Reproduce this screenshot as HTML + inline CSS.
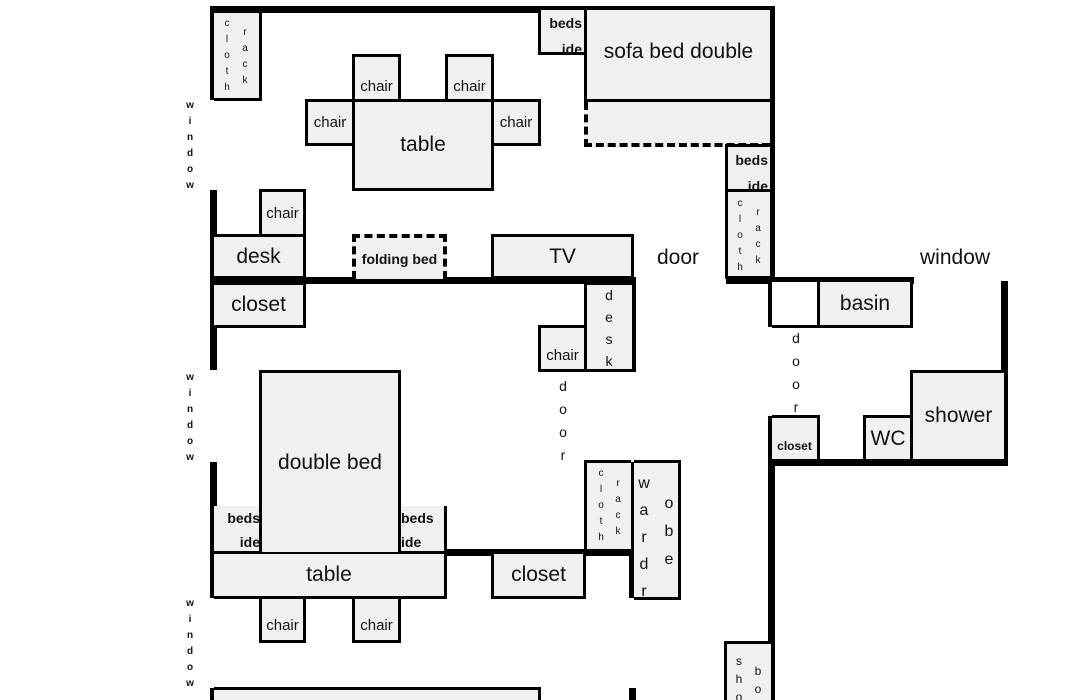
<!DOCTYPE html>
<html><head><meta charset="utf-8"><style>
html,body{margin:0;width:1080px;height:700px;overflow:hidden;}
body{background:#fff;position:relative;font-family:"Liberation Sans",sans-serif;}
.b{position:absolute;box-sizing:border-box;border:3px solid #000;background:#f0f0f0;display:flex;align-items:center;justify-content:center;color:#111;font-size:20px;}
.w{position:absolute;background:#000;}
.t{position:absolute;color:#111;}
.v{position:absolute;color:#111;font-size:10px;line-height:16px;text-align:center;width:10px;}
.sm{font-size:15px;}
.bs{font-weight:bold;font-size:14px;line-height:26px;text-align:right;padding-right:2px;display:block;}
</style></head><body>
<!-- walls -->
<div class="w" style="left:210px;top:6px;width:565px;height:7px"></div>
<div class="w" style="left:768px;top:6px;width:7px;height:278px"></div>
<div class="w" style="left:210px;top:6px;width:7px;height:94px"></div>
<div class="w" style="left:210px;top:190px;width:7px;height:180px"></div>
<div class="w" style="left:210px;top:277px;width:426px;height:7px"></div>
<div class="w" style="left:629px;top:277px;width:7px;height:95px"></div>
<div class="w" style="left:726px;top:277px;width:49px;height:7px"></div>
<div class="w" style="left:768px;top:277px;width:146px;height:7px"></div>
<div class="w" style="left:768px;top:277px;width:7px;height:50px"></div>
<div class="w" style="left:1001px;top:281px;width:7px;height:185px"></div>
<div class="w" style="left:768px;top:459px;width:240px;height:7px"></div>
<div class="w" style="left:768px;top:416px;width:7px;height:284px"></div>
<div class="w" style="left:210px;top:462px;width:7px;height:136px"></div>
<div class="w" style="left:210px;top:549px;width:426px;height:7px"></div>
<div class="w" style="left:629px;top:462px;width:7px;height:136px"></div>
<div class="w" style="left:210px;top:688px;width:7px;height:12px"></div>
<div class="w" style="left:629px;top:688px;width:7px;height:12px"></div>

<!-- top-left room -->
<div class="b" style="left:214px;top:10px;width:48px;height:91px;border-left:none"></div>
<div class="v" style="left:222px;top:16px">c<br>l<br>o<br>t<br>h</div>
<div class="v" style="left:240px;top:25px">r<br>a<br>c<br>k</div>
<div class="b sm" style="left:352px;top:54px;width:49px;height:49px;align-items:flex-end;padding-bottom:5px">chair</div>
<div class="b sm" style="left:445px;top:54px;width:49px;height:49px;align-items:flex-end;padding-bottom:5px">chair</div>
<div class="b sm" style="left:305px;top:99px;width:50px;height:47px">chair</div>
<div class="b sm" style="left:491px;top:99px;width:50px;height:47px">chair</div>
<div class="b" style="left:352px;top:99px;width:142px;height:92px;font-size:21px">table</div>
<div class="b" style="left:538px;top:10px;width:49px;height:45px;display:block;border-top:none"><span class="bs">beds<br>ide</span></div>
<div class="b" style="left:584px;top:10px;width:186px;height:92px;font-size:21px;border-top:none;border-right:none;align-items:flex-start;padding-top:30px">sofa bed double</div>
<div class="b" style="left:584px;top:102px;width:186px;height:45px;border:4px dashed #000;border-top:none;border-right:none"></div>
<div class="b" style="left:725px;top:144px;width:45px;height:48px;display:block;border-right:none"><span class="bs">beds<br>ide</span></div>
<div class="b" style="left:725px;top:189px;width:45px;height:90px;border-right:none"></div>
<div class="v" style="left:735px;top:196px">c<br>l<br>o<br>t<br>h</div>
<div class="v" style="left:753px;top:205px">r<br>a<br>c<br>k</div>
<div class="b sm" style="left:259px;top:189px;width:47px;height:48px">chair</div>
<div class="b" style="left:214px;top:234px;width:92px;height:45px;font-size:21px;border-left:none">desk</div>
<div class="b" style="left:352px;top:234px;width:95px;height:45px;border:4px dashed #000;border-bottom:none;font-size:14px;font-weight:bold">folding bed</div>
<div class="b" style="left:491px;top:234px;width:143px;height:45px;font-size:21px">TV</div>
<div class="t" style="left:657px;top:246px;font-size:21px">door</div>
<div class="t" style="left:920px;top:246px;font-size:21px">window</div>
<div class="v" style="left:185px;top:98px;font-weight:bold">w<br>i<br>n<br>d<br>o<br>w</div>

<!-- middle -->
<div class="b" style="left:214px;top:282px;width:92px;height:46px;font-size:21px;border-left:none">closet</div>
<div class="b" style="left:584px;top:282px;width:48px;height:90px;border-right:none"></div>
<div class="v" style="left:603px;top:284px;font-size:14px;line-height:22px;width:12px">d<br>e<br>s<br>k</div>
<div class="b sm" style="left:538px;top:325px;width:49px;height:47px;align-items:flex-end;padding-bottom:5px">chair</div>
<div class="v" style="left:557px;top:375px;font-size:14px;line-height:23px;width:12px">d<br>o<br>o<br>r</div>
<div class="b" style="left:772px;top:282px;width:48px;height:46px;background:#fff;border-left:none;border-top:none"></div>
<div class="b" style="left:817px;top:282px;width:96px;height:46px;font-size:21px;border-top:none">basin</div>
<div class="v" style="left:790px;top:327px;font-size:14px;line-height:23px;width:12px">d<br>o<br>o<br>r</div>
<div class="b" style="left:910px;top:370px;width:94px;height:92px;font-size:21px;border-right:none">shower</div>
<div class="b" style="left:863px;top:415px;width:50px;height:47px;font-size:21px">WC</div>
<div class="b" style="left:772px;top:415px;width:48px;height:47px;font-size:12px;font-weight:bold;border-left:none;align-items:flex-end;padding-bottom:6px">closet</div>
<div class="v" style="left:185px;top:370px;font-weight:bold">w<br>i<br>n<br>d<br>o<br>w</div>

<!-- lower room -->
<div class="b" style="left:214px;top:506px;width:48px;height:45px;display:block;border:none;background:#f0f0f0"><span class="bs" style="line-height:24px">beds<br>ide</span></div>
<div class="b" style="left:398px;top:506px;width:49px;height:45px;display:block;border:none;border-right:3px solid #000;background:#f0f0f0"><span class="bs" style="text-align:left;padding-left:3px;line-height:24px">beds<br>ide</span></div>
<div class="b" style="left:259px;top:370px;width:142px;height:182px;font-size:21px;border-bottom:none">double bed</div>
<div class="b" style="left:214px;top:554px;width:233px;height:45px;font-size:21px;border-left:none;border-top:none">table</div>
<div class="b sm" style="left:259px;top:596px;width:47px;height:47px;align-items:flex-end;padding-bottom:6px">chair</div>
<div class="b sm" style="left:352px;top:596px;width:49px;height:47px;align-items:flex-end;padding-bottom:6px">chair</div>
<div class="b" style="left:491px;top:554px;width:95px;height:45px;font-size:21px;border-top:none">closet</div>
<div class="b" style="left:584px;top:460px;width:47px;height:92px;border-right:none"></div>
<div class="v" style="left:596px;top:466px">c<br>l<br>o<br>t<br>h</div>
<div class="v" style="left:613px;top:476px">r<br>a<br>c<br>k</div>
<div class="b" style="left:634px;top:460px;width:47px;height:140px;border-left:none"></div>
<div class="v" style="left:637px;top:470px;font-size:16px;line-height:27px;width:14px">w<br>a<br>r<br>d<br>r</div>
<div class="v" style="left:662px;top:490px;font-size:16px;line-height:28px;width:14px">o<br>b<br>e</div>
<div class="v" style="left:185px;top:596px;font-weight:bold">w<br>i<br>n<br>d<br>o<br>w</div>
<div class="b" style="left:214px;top:687px;width:327px;height:30px;border-left:none"></div>
<div class="b" style="left:724px;top:641px;width:47px;height:70px;border-right:none"></div>
<div class="v" style="left:734px;top:652px;font-size:12px;line-height:18px">s<br>h<br>o</div>
<div class="v" style="left:753px;top:662px;font-size:12px;line-height:18px">b<br>o</div>
</body></html>
